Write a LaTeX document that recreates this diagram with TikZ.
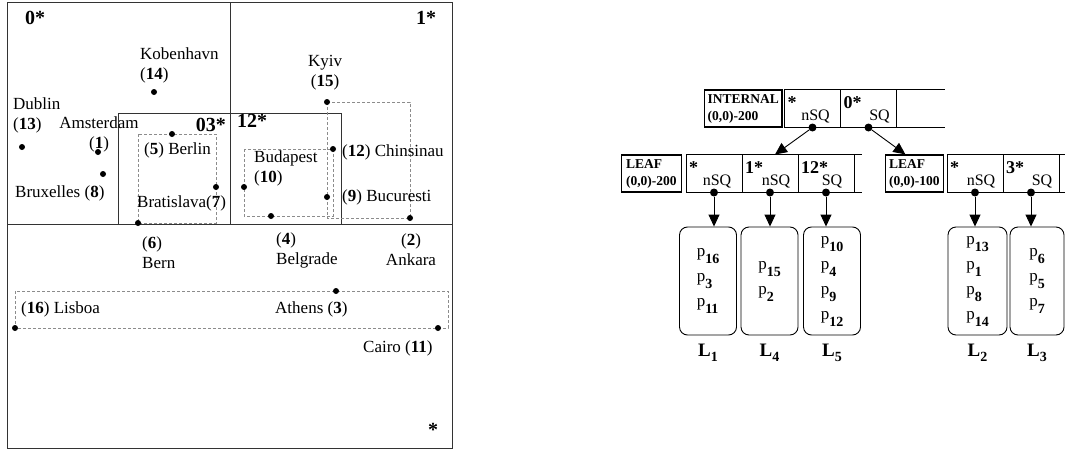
\documentclass[tikz,border=0pt]{standalone}
\usepackage{fontspec}
\setmainfont{Liberation Serif}
\usetikzlibrary{positioning,arrows.meta}

\newcommand\pnum[1]{p\raisebox{-7pt}{\fontsize{14}{14}\selectfont\bfseries #1}}
\newcommand\lname[1]{L\raisebox{-5pt}{\fontsize{14}{14}\selectfont #1}}

\tikzset{
  frame/.style={draw=black!80, line width=0.9pt},
  mbr/.style={draw=black!45, dash pattern=on 3pt off 2pt, line width=0.9pt},
  city/.style={circle, fill, inner sep=0pt, minimum size=6pt},
  place/.style={font=\fontsize{17}{20}\selectfont, inner sep=0pt},
  region/.style={font=\fontsize{20}{20}\selectfont\bfseries, inner sep=0pt},
  cell/.style={draw, line width=0.9pt, minimum width=56pt, minimum height=38pt,
               inner sep=0pt, outer sep=0pt},
  kind/.style={draw, line width=1.2pt, minimum height=37pt, inner sep=3pt,
               align=left, font=\fontsize{13.5}{17}\selectfont\bfseries},
  entry/.style={anchor=base west, inner sep=0pt, font=\fontsize{18}{18}\selectfont\bfseries},
  flag/.style={anchor=base, inner sep=0pt, font=\fontsize{16}{16}\selectfont},
  ptr/.style={circle, fill, inner sep=0pt, minimum size=8pt},
  page/.style={draw, line width=0.9pt, rounded corners=8pt, minimum width=57pt,
               minimum height=108pt, align=left, font=\fontsize{17}{25}\selectfont},
  tag/.style={inner sep=0pt, font=\fontsize{19}{19}\selectfont\bfseries},
}

\begin{document}
\begin{tikzpicture}[x=1pt, y=-1pt, >={Triangle[length=12pt,width=11pt]}]
  \useasboundingbox (0,0) rectangle (1065,450);

  % space partition
  \draw[frame] (7,2) rectangle (452,448);
  \draw[frame] (7,224) -- (452,224);
  \draw[frame] (230,2) -- (230,224);
  \draw[frame] (118,113) rectangle (230,224);
  \draw[frame] (230,113) rectangle (341,224);

  % cities
  \foreach \n/\x/\y in {1/98/152, 2/410/218, 3/336/291, 4/271/216, 5/172/134,
      6/138/223, 7/216/187, 8/103/174, 9/327/197, 10/244/187, 11/438/328,
      12/333/149, 13/22/147, 14/154/92, 15/327/102, 16/15/328}
    \coordinate (p\n) at (\x,\y);

  % leaf rectangles
  \draw[mbr] (p6 |- p5) rectangle (p7 |- p6);
  \draw[mbr] (p10 |- p12) rectangle (p12 |- p4);
  \draw[mbr] (p15) rectangle (p2);
  \draw[mbr] (p16 |- p3) rectangle ([xshift=10pt]p11);

  \foreach \n in {1,...,16}
    \node[city] (c\n) at (p\n) {};

  \node[region, anchor=west] (r0) at (25,18) {0*};
  \node[region, anchor=west] (r1) at (416,18) {1*};
  \node[region, anchor=east] (r03) at (226,125) {03*};
  \node[region, anchor=west] (r12) at (237,121) {12*};
  \node[region, anchor=center] (r3) at (433,430) {*};

  \node[place, anchor=west, align=left] (t14) at (140,65) {Kobenhavn\\(\textbf{14})};
  \node[place, anchor=west, align=left] (t13) at (13,115) {Dublin\\(\textbf{13})};
  \node[place, align=center] (t1) at (99,134) {Amsterdam\\(\textbf{1})};
  \node[place, anchor=west] (t5) at (144,150) {(\textbf{5}) Berlin};
  \node[place, anchor=west] (t8) at (15,193) {Bruxelles (\textbf{8})};
  \node[place, anchor=west] (t7) at (137,203) {Bratislava(\textbf{7})};
  \node[place, align=center] (t15) at (325,73) {Kyiv\\(\textbf{15})};
  \node[place, anchor=west] (t12) at (342,152) {(\textbf{12}) Chinsinau};
  \node[place, anchor=west, align=left] (t10) at (254,168) {Budapest\\(\textbf{10})};
  \node[place, anchor=west] (t9) at (342,197) {(\textbf{9}) Bucuresti};
  \node[place, anchor=west, align=left] (t6) at (142,253) {(\textbf{6})\\Bern};
  \node[place, anchor=west, align=left] (t4) at (276,250) {(\textbf{4})\\Belgrade};
  \node[place, align=center] (t2) at (411,250) {(\textbf{2})\\Ankara};
  \node[place, anchor=west] (t16) at (21,309) {(\textbf{16}) Lisboa};
  \node[place, anchor=west] (t3) at (275,309) {Athens (\textbf{3})};
  \node[place, anchor=west] (t11) at (363,348) {Cairo (\textbf{11})};

  % tree: root
  \node[cell] (ia) at (812.5,108.5) {};
  \node[cell, right=0pt of ia] (ib) {};
  \draw[line width=0.9pt] (ib.north east) -- ++(48,0) (ib.south east) -- ++(48,0);
  \node[kind, minimum width=77pt, left=2pt of ia] (ik) {INTERNAL\\(0,0)-200};

  % tree: leaves
  \node[cell] (la) at (714,173.5) {};
  \node[cell, right=0pt of la] (lb) {};
  \node[cell, right=0pt of lb] (lc) {};
  \draw[line width=0.9pt] (lc.north east) -- ++(8,0) (lc.south east) -- ++(8,0);
  \node[kind, minimum width=60pt, left=4pt of la] (lk) {LEAF\\(0,0)-200};

  \node[cell] (ra) at (975,173.5) {};
  \node[cell, right=0pt of ra] (rb) {};
  \draw[line width=0.9pt] (rb.north east) -- ++(6,0) (rb.south east) -- ++(6,0);
  \node[kind, minimum width=58pt, left=3pt of ra] (rk) {LEAF\\(0,0)-100};

  \foreach \c/\k/\f/\o in {ia/*/nSQ/31, ib/0*/SQ/39, la/*/nSQ/31, lb/1*/nSQ/34,
      lc/12*/SQ/34, ra/*/nSQ/34, rb/3*/SQ/39} {
    \node[entry] (\c-k) at ([shift={(3,19)}]\c.north west) {\k};
    \node[flag] (\c-f) at ([shift={(\o,-7)}]\c.south west) {\f};
    \node[ptr] (\c-p) at (\c.south) {};
  }

  \draw[->, line width=0.9pt] (ia-p) -- ([xshift=5pt]lb.north);
  \draw[->, line width=0.9pt] (ib-p) -- ([xshift=-9pt]rk.north);

  % data pages
  \node[page] (L1) at (708,281) {\pnum{16}\\\pnum{3}\\\pnum{11}};
  \node[page] (L4) at (769.5,281) {\pnum{15}\\\pnum{2}};
  \node[page] (L5) at (832,281) {\pnum{10}\\\pnum{4}\\\pnum{9}\\\pnum{12}};
  \node[page, minimum width=59pt] (L2) at (977.5,281) {\pnum{13}\\\pnum{1}\\\pnum{8}\\\pnum{14}};
  \node[page, minimum width=54pt] (L3) at (1037,281) {\pnum{6}\\\pnum{5}\\\pnum{7}};

  \draw[->, line width=0.9pt] (la-p) -- (la-p |- L1.north);
  \draw[->, line width=0.9pt] (lb-p) -- (lb-p |- L4.north);
  \draw[->, line width=0.9pt] (lc-p) -- (lc-p |- L5.north);
  \draw[->, line width=0.9pt] (ra-p) -- (ra-p |- L2.north);
  \draw[->, line width=0.9pt] (rb-p) -- (rb-p |- L3.north);

  \node[tag, below=8pt of L1] (n1) {\lname{1}};
  \node[tag, below=8pt of L4] (n4) {\lname{4}};
  \node[tag, below=8pt of L5] (n5) {\lname{5}};
  \node[tag, below=8pt of L2] (n2) {\lname{2}};
  \node[tag, below=8pt of L3] (n3) {\lname{3}};
\end{tikzpicture}
\end{document}
